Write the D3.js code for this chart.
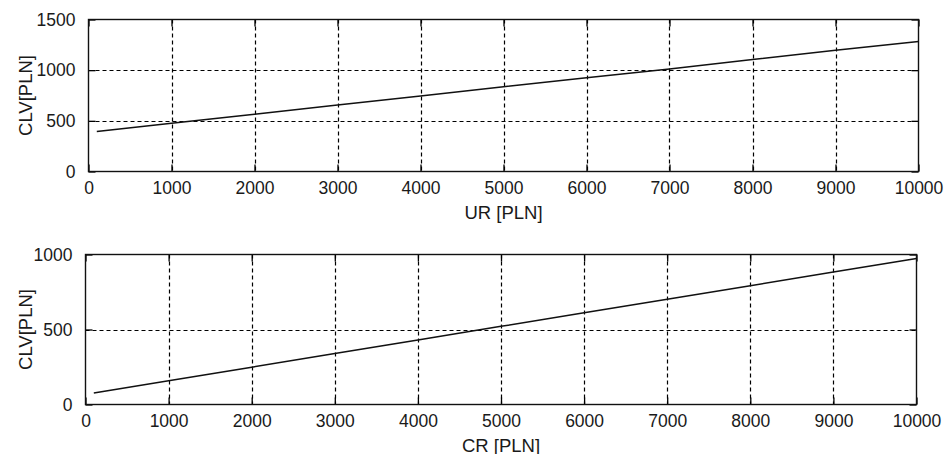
<!DOCTYPE html>
<html>
<head>
    <title>CLV vs UR / CR</title>
    <script src="https://d3js.org/d3.v7.min.js"></script>
    <style>
        body { margin: 0; background: #fff; }
        text { font-family: "Liberation Sans", Arial, sans-serif; fill: #1a1a1a; }
    </style>
</head>
<body>
    <svg id="chart"></svg>

    <script>

        // values
        var revenue = [100, 1000, 2000, 3000, 4000, 5000, 6000, 7000, 8000, 9000, 10000];
        var clvUR = [395, 476, 566, 656, 746, 836, 926, 1012, 1105, 1196, 1283];
        var clvCR = [77, 158, 249, 340, 430, 521, 611, 702, 792, 883, 973];

        var xTicks = [0, 1000, 2000, 3000, 4000, 5000, 6000, 7000, 8000, 9000, 10000];
        var yTicksTop = [0, 500, 1000, 1500];
        var yTicksBottom = [0, 500, 1000];

        var width = 945;
        var height = 454;

        var svg = d3.select("#chart")
                    .attr("width", width)
                    .attr("height", height);

        var panels = [
            { box: {left: 88.5, right: 918.5, top: 19.5, bottom: 171.5},
              yMax: 1500, yTicks: yTicksTop, values: clvUR, xLabel: "UR [PLN]" },
            { box: {left: 85.5, right: 916.5, top: 254.5, bottom: 404.5},
              yMax: 1000, yTicks: yTicksBottom, values: clvCR, xLabel: "CR [PLN]" }
        ];

        var tickLen = 7;

        panels.forEach(function(p) {
            var b = p.box;
            var g = svg.append("g");

            var x = d3.scaleLinear().domain([0, 10000]).range([b.left, b.right]);
            var y = d3.scaleLinear().domain([0, p.yMax]).range([b.bottom, b.top]);

            // dashed grid
            g.selectAll(".vgrid")
                .data(xTicks.slice(1, -1))
                .enter().append("line")
                .attr("x1", function(d) { return Math.round(x(d)) + 0.5; })
                .attr("x2", function(d) { return Math.round(x(d)) + 0.5; })
                .attr("y1", b.top)
                .attr("y2", b.bottom)
                .attr("stroke", "#000")
                .attr("stroke-width", 1.2)
                .attr("stroke-dasharray", "4,3");

            g.selectAll(".hgrid")
                .data(p.yTicks.slice(1, -1))
                .enter().append("line")
                .attr("x1", b.left)
                .attr("x2", b.right)
                .attr("y1", function(d) { return Math.round(y(d)) + 0.5; })
                .attr("y2", function(d) { return Math.round(y(d)) + 0.5; })
                .attr("stroke", "#000")
                .attr("stroke-width", 1.2)
                .attr("stroke-dasharray", "4,3");

            // inward ticks on all four sides
            var xAxisB = d3.axisBottom(x).tickValues(xTicks).tickSize(-tickLen).tickPadding(10).tickFormat(d3.format("d"));
            var xAxisT = d3.axisTop(x).tickValues(xTicks).tickSize(-tickLen).tickFormat("");
            var yAxisL = d3.axisLeft(y).tickValues(p.yTicks).tickSize(-tickLen).tickPadding(13).tickFormat(d3.format("d"));
            var yAxisR = d3.axisRight(y).tickValues(p.yTicks).tickSize(-tickLen).tickFormat("");

            [
                [xAxisB, "translate(0," + b.bottom + ")"],
                [xAxisT, "translate(0," + b.top + ")"],
                [yAxisL, "translate(" + b.left + ",0)"],
                [yAxisR, "translate(" + b.right + ",0)"]
            ].forEach(function(a) {
                var ax = g.append("g")
                    .attr("transform", a[1])
                    .call(a[0]);
                ax.select(".domain").remove();
                ax.selectAll("line").attr("stroke", "#000").attr("stroke-width", 1.3);
                ax.selectAll("text")
                    .attr("fill", "#1a1a1a")
                    .style("font-size", "17.5px")
                    .style("font-family", "'Liberation Sans', Arial, sans-serif");
            });

            // frame
            g.append("rect")
                .attr("x", b.left)
                .attr("y", b.top)
                .attr("width", b.right - b.left)
                .attr("height", b.bottom - b.top)
                .attr("fill", "none")
                .attr("stroke", "#111")
                .attr("stroke-width", 1.4);

            // the line
            var line = d3.line()
                .x(function(d, i) { return x(revenue[i]); })
                .y(function(d) { return y(d); });

            g.append("path")
                .datum(p.values)
                .attr("d", line)
                .attr("fill", "none")
                .attr("stroke", "#111")
                .attr("stroke-width", 1.5);

            // labels
            g.append("text")
                .attr("x", (b.left + b.right) / 2)
                .attr("y", b.bottom + 47)
                .attr("text-anchor", "middle")
                .style("font-size", "18.5px")
                .text(p.xLabel);

            g.append("text")
                .attr("transform", "translate(32," + ((b.top + b.bottom) / 2) + ") rotate(-90)")
                .attr("text-anchor", "middle")
                .style("font-size", "18.5px")
                .text("CLV[PLN]");
        });

    </script>

</body>
</html>
